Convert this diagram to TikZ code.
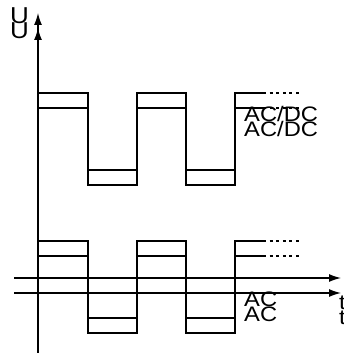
\documentclass[tikz,border=0pt]{standalone}
\usepackage{fontspec}
\setmainfont{Liberation Sans}
\usepackage{tikz}
\usetikzlibrary{arrows.meta}
\tikzset{
  axis/.style = {line width=1.3pt, -{Latex[length=12pt,width=8pt]}},
  wave/.style = {line width=2pt, line join=miter},
  cont/.style = {line width=2pt, dash pattern=on 3pt off 3.6pt},
  lbl/.style  = {font=\fontsize{21}{25}\selectfont, inner sep=0pt, anchor=base west, xscale=1.13},
}

\begin{document}
\begin{tikzpicture}[x=1pt, y=-1pt]
  \useasboundingbox (0,0) rectangle (343,353);
  % the drawing shows up twice, the second copy 15px lower
  \foreach \dy in {0,15} {
    \begin{scope}[shift={(0,\dy)}]
      % axes
      \draw[axis] (38,338) -- (38,13);
      \draw[axis] (14,278) -- (341,278);
      \node[lbl, font=\fontsize{23}{27}\selectfont] (u\dy) at (10,24) {U};
      \node[lbl] (t\dy) at (339,309) {t};
      % AC/DC signal
      \draw[wave] (38,93) -- (88,93) -- (88,170) -- (137,170) -- (137,93)
        -- (186,93) -- (186,170) -- (235,170) -- (235,93) -- (263,93);
      \draw[cont] (263,93) -- (301,93);
      \node[lbl] (acdc\dy) at (244,121) {AC/DC};
      % AC signal
      \draw[wave] (38,241) -- (88,241) -- (88,318) -- (137,318) -- (137,241)
        -- (186,241) -- (186,318) -- (235,318) -- (235,241) -- (263,241);
      \draw[cont] (263,241) -- (301,241);
      \node[lbl] (ac\dy) at (244,306) {AC};
    \end{scope}
  }
\end{tikzpicture}
\end{document}
